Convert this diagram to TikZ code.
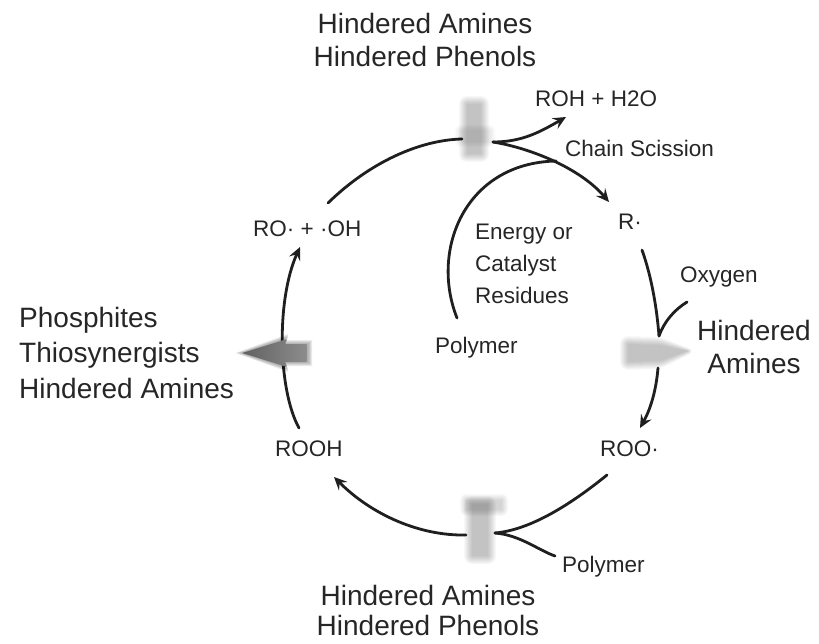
\documentclass[tikz,border=0pt]{standalone}
\usepackage{fontspec}
\setmainfont{Liberation Sans}
\usetikzlibrary{arrows.meta}
\tikzset{
  big/.style={font=\fontsize{28}{33}\selectfont, text=black!85, inner sep=0pt},
  small/.style={font=\fontsize{22.5}{31}\selectfont, text=black!85, inner sep=0pt},
  flow/.style={line width=2.8pt, draw=black!88, line cap=round},
  tipped/.style={-{Stealth[length=13pt,width=12pt,inset=5pt]}},
  haze/.style={fill=black, opacity=0.028},
}
\begin{document}
\begin{tikzpicture}[x=1pt,y=-1pt]
\useasboundingbox (0,0) rectangle (819,644);
\fill[white] (0,0) rectangle (819,644);

% ---- text ----
\node[big,anchor=base] (top1) at (425,34) {Hindered Amines};
\node[big,anchor=base] (top2) at (425,67) {Hindered Phenols};
\node[big,anchor=base] (bot1) at (428,605) {Hindered Amines};
\node[big,anchor=base] (bot2) at (428,635) {Hindered Phenols};
\node[big,anchor=base west] (left1) at (19,327) {Phosphites};
\node[big,anchor=base west] (left2) at (19,362) {Thiosynergists};
\node[big,anchor=base west] (left3) at (19,398) {Hindered Amines};
\node[big,anchor=base] (right1) at (754,340) {Hindered};
\node[big,anchor=base] (right2) at (754,373) {Amines};

\node[small,anchor=base west] (roh) at (535,107) {ROH + H2O};
\node[small,anchor=base west] (chain) at (565,157) {Chain Scission};
\node[small,anchor=base west] (r) at (618,230) {R·};
\node[small,anchor=base west] (ro) at (253,237) {RO· + ·OH};
\node[small,anchor=base west] (en1) at (475,240) {Energy or};
\node[small,anchor=base west] (en2) at (475,272) {Catalyst};
\node[small,anchor=base west] (en3) at (475,303) {Residues};
\node[small,anchor=base west] (polyin) at (435,353) {Polymer};
\node[small,anchor=base west] (oxygen) at (680,283) {Oxygen};
\node[small,anchor=base west] (roo) at (600,456) {ROO·};
\node[small,anchor=base west] (rooh) at (275,456) {ROOH};
\node[small,anchor=base west] (polybot) at (562,572) {Polymer};

% ---- junction coordinates ----
\coordinate (topin) at (462,139);
\coordinate (topout) at (493,142);
\coordinate (merge) at (556,161);
\coordinate (rohtip) at (566,117);
\coordinate (rtip) at (609,202);
\coordinate (rarcA) at (642,250);
\coordinate (rjoin) at (659,336);
\coordinate (rarcB) at (658,368);
\coordinate (rootip) at (640,428);
\coordinate (oxstart) at (687,302);
\coordinate (roostart) at (607,475);
\coordinate (botin) at (495,533);
\coordinate (botout) at (466,535);
\coordinate (polyend) at (555,556);
\coordinate (roohtip) at (334,477);
\coordinate (roohstart) at (299,428);
\coordinate (rotip) at (300,247);
\coordinate (rostart) at (328,203);
\coordinate (polystart) at (457,318);

% ---- connectors ----
\draw[flow] (rostart) .. controls (370,162) and (420,140) .. (topin);
\draw[flow,tipped] (topout) .. controls (522,142) and (540,132) .. (rohtip);
\draw[flow,tipped] (topout) .. controls (530,148) and (580,168) .. (rtip);
\draw[flow] (polystart) .. controls (430,250) and (465,163) .. (merge);
\draw[flow] (rarcA) .. controls (652,278) and (657,310) .. (rjoin);
\draw[flow] (oxstart) .. controls (674,310) and (664,322) .. (rjoin);
\draw[flow,tipped] (rarcB) .. controls (656,392) and (650,410) .. (rootip);
\draw[flow] (roostart) .. controls (570,505) and (530,530) .. (botin);
\draw[flow] (botin) .. controls (520,535) and (538,550) .. (polyend);
\draw[flow,tipped] (botout) .. controls (420,536) and (372,515) .. (roohtip);
\draw[flow,tipped] (roohstart) .. controls (278,390) and (276,300) .. (rotip);

% ---- grey stabiliser marks (soft, blurred) ----
% top mark
\foreach \k in {0,1,...,8} {
  \fill[haze,rounded corners=\k pt] ({467-\k},{104-\k}) rectangle ({481+\k},{154+\k});
}
\foreach \k in {0,1,...,5} {
  \fill[haze,opacity=0.015,rounded corners=\k pt] ({460-\k},{130-\k}) rectangle ({490+\k},{142+\k});
}
% bottom mark
\foreach \k in {0,1,...,8} {
  \fill[haze,rounded corners=\k pt] ({472-\k},{504-\k}) rectangle ({488+\k},{556+\k});
}
\foreach \k in {0,1,...,6} {
  \fill[haze,opacity=0.022,rounded corners=\k pt] ({466-\k},{500-\k}) rectangle ({502+\k},{510+\k});
}
% left arrow
\foreach \k in {0,1,...,3} {
  \fill[haze,opacity=0.08] ({240-1.5*\k},353) -- (288,{337-\k}) -- (286,{343-\k}) -- ({309+\k},{343-\k})
    -- ({309+\k},{363+\k}) -- (286,{363+\k}) -- (288,{369+\k}) -- cycle;
}
\shade[left color=black!62,right color=black!45,rounded corners=1pt]
  (242,353) -- (287,339) -- (285,344) -- (307,344) -- (307,362) -- (285,362) -- (287,367) -- cycle;
% right arrow
\foreach \k in {0,1,...,8} {
  \fill[haze,rounded corners=\k pt] ({628-\k},{344-\k}) -- (660,{345-\k}) -- ({688+\k},351)
    -- (660,{361+\k}) -- ({628-\k},{362+\k}) -- cycle;
}
\end{tikzpicture}
\end{document}
